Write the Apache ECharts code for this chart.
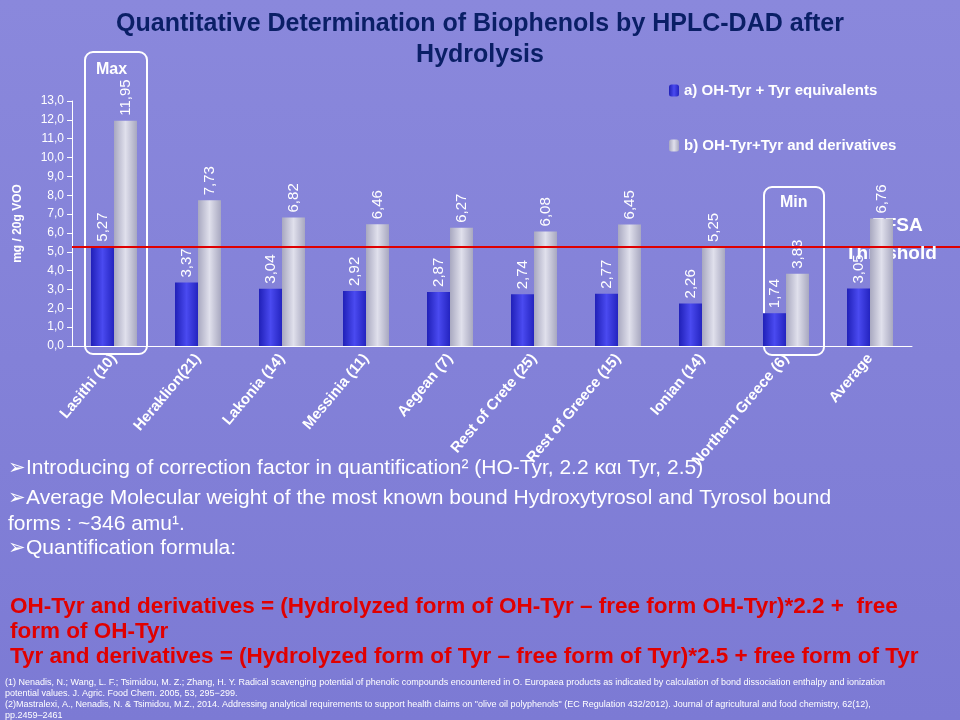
<!DOCTYPE html>
<html><head><meta charset="utf-8">
<script src="https://cdn.jsdelivr.net/npm/echarts@6/dist/echarts.min.js"></script>
<style>html,body{margin:0;padding:0}#chart-container{width:960px;height:720px}</style>
</head><body><div id="chart-container"></div>
<script>
var categories = ['Lasithi (10)', 'Heraklion(21)', 'Lakonia (14)', 'Messinia (11)', 'Aegean (7)', 'Rest of Crete (25)', 'Rest of Greece (15)', 'Ionian (14)', 'Northern Greece (6)', 'Average'];
var equivalents = [5.27, 3.37, 3.04, 2.92, 2.87, 2.74, 2.77, 2.26, 1.74, 3.05];
var derivatives = [11.95, 7.73, 6.82, 6.46, 6.27, 6.08, 6.45, 5.25, 3.83, 6.76];
var threshold = 5.25;

var dom = document.getElementById('chart-container');
var myChart = echarts.init(dom, null, { renderer: 'canvas' });

var fmt = function (p) { return p.value.toFixed(2).replace('.', ','); };
var barLabel = {
  show: true, position: 'top', rotate: 90, align: 'left', verticalAlign: 'middle',
  distance: 5, color: '#ffffff', fontSize: 15, fontFamily: 'Liberation Sans', formatter: fmt
};
var textStyle = { fill: '#ffffff', font: '21px "Liberation Sans"' };
var redStyle = { fill: '#e00000', font: 'bold 22.5px "Liberation Sans"' };

var option = {
  backgroundColor: new echarts.graphic.LinearGradient(0, 0, 0, 1, [
    { offset: 0, color: '#8a88dc' }, { offset: 1, color: '#7c7ad4' }
  ]),
  title: {
    text: 'Quantitative Determination of Biophenols by HPLC-DAD after\nHydrolysis',
    left: 'center', top: 4,
    textStyle: { color: '#0a1f66', fontSize: 25, fontWeight: 'bold', fontFamily: 'Liberation Sans', lineHeight: 31 }
  },
  legend: {
    orient: 'vertical', left: 664, top: 78, itemGap: 40, itemWidth: 10, itemHeight: 12,
    textStyle: { color: '#ffffff', fontSize: 15, fontWeight: 'bold', fontFamily: 'Liberation Sans' },
    data: ['a) OH-Tyr + Tyr equivalents', 'b) OH-Tyr+Tyr and derivatives']
  },
  grid: { left: 72, right: 48, top: 101, bottom: 374 },
  xAxis: {
    type: 'category', data: categories,
    axisLine: { lineStyle: { color: '#ffffff' } },
    axisTick: { lineStyle: { color: '#ffffff' } },
    axisLabel: { rotate: 50, color: '#ffffff', fontSize: 15, fontWeight: 'bold', fontFamily: 'Liberation Sans', interval: 0, margin: 10 }
  },
  yAxis: {
    type: 'value', min: 0, max: 13, interval: 1,
    name: 'mg / 20g VOO', nameLocation: 'middle', nameGap: 48,
    nameTextStyle: { color: '#ffffff', fontSize: 12, fontWeight: 'bold', fontFamily: 'Liberation Sans' },
    axisLine: { show: true, lineStyle: { color: '#ffffff' } },
    axisTick: { show: true, lineStyle: { color: '#ffffff' } },
    splitLine: { show: false },
    axisLabel: { color: '#ffffff', fontSize: 12, fontFamily: 'Liberation Sans', formatter: function (v) { return v.toFixed(1).replace('.', ','); } }
  },
  series: [
    {
      name: 'a) OH-Tyr + Tyr equivalents', type: 'bar', data: equivalents, barWidth: 23, barGap: '0%',
      itemStyle: { color: new echarts.graphic.LinearGradient(0, 0, 1, 0, [
        { offset: 0, color: '#2020b8' }, { offset: 0.5, color: '#4a4af0' }, { offset: 1, color: '#2424c0' }]) },
      label: barLabel,
      markLine: {
        symbol: 'none', silent: true, label: { show: false },
        lineStyle: { color: '#e00000', width: 2, type: 'solid' },
        data: [{ yAxis: threshold }]
      }
    },
    {
      name: 'b) OH-Tyr+Tyr and derivatives', type: 'bar', data: derivatives, barWidth: 23,
      itemStyle: { color: new echarts.graphic.LinearGradient(0, 0, 1, 0, [
        { offset: 0, color: '#a8a8c0' }, { offset: 0.5, color: '#e0e0ec' }, { offset: 1, color: '#a8a8c0' }]) },
      label: barLabel
    }
  ],
  graphic: [
    { type: 'rect', shape: { x: 85, y: 52, width: 62, height: 302, r: 8 }, style: { fill: 'none', stroke: '#ffffff', lineWidth: 2 } },
    { type: 'text', left: 96, top: 62, style: { text: 'Max', fill: '#ffffff', font: 'bold 16px "Liberation Sans"' } },
    { type: 'rect', shape: { x: 764, y: 187, width: 60, height: 168, r: 8 }, style: { fill: 'none', stroke: '#ffffff', lineWidth: 2 } },
    { type: 'text', left: 780, top: 195, style: { text: 'Min', fill: '#ffffff', font: 'bold 16px "Liberation Sans"' } },
    { type: 'line', shape: { x1: 900, y1: 247, x2: 960, y2: 247 }, style: { stroke: '#e00000', lineWidth: 2 } },
    { type: 'text', left: 872, top: 216, style: { text: 'EFSA', fill: '#ffffff', font: 'bold 19px "Liberation Sans"', align: 'left' } },
    { type: 'text', left: 845, top: 244, style: { text: 'Threshold', fill: '#ffffff', font: 'bold 19px "Liberation Sans"' } },
    { type: 'text', left: 8, top: 458, style: Object.assign({ text: '➢Introducing of correction factor in quantification² (HO-Tyr, 2.2 και Tyr, 2.5)' }, textStyle) },
    { type: 'text', left: 8, top: 485, style: Object.assign({ text: '➢Average Molecular weight of the most known bound Hydroxytyrosol and Tyrosol bound\nforms : ~346 amu¹.', lineHeight: 26 }, textStyle) },
    { type: 'text', left: 8, top: 538, style: Object.assign({ text: '➢Quantification formula:' }, textStyle) },
    { type: 'text', left: 10, top: 594, style: Object.assign({ text: 'OH-Tyr and derivatives = (Hydrolyzed form of OH-Tyr – free form OH-Tyr)*2.2 +  free\nform of OH-Tyr\nTyr and derivatives = (Hydrolyzed form of Tyr – free form of Tyr)*2.5 + free form of Tyr', lineHeight: 25 }, redStyle) },
    { type: 'text', left: 5, top: 677, style: { text: '(1) Nenadis, N.; Wang, L. F.; Tsimidou, M. Z.; Zhang, H. Y. Radical scavenging potential of phenolic compounds encountered in O. Europaea products as indicated by calculation of bond dissociation enthalpy and ionization\npotential values. J. Agric. Food Chem. 2005, 53, 295−299.\n(2)Mastralexi, A., Nenadis, N. & Tsimidou, M.Z., 2014. Addressing analytical requirements to support health claims on "olive oil polyphenols" (EC Regulation 432/2012). Journal of agricultural and food chemistry, 62(12),\npp.2459–2461', fill: '#ffffff', font: '9px "Liberation Sans Narrow", "Liberation Sans"', lineHeight: 11 } }
  ]
};

myChart.setOption(option);
window.addEventListener('resize', myChart.resize);
</script></body></html>
